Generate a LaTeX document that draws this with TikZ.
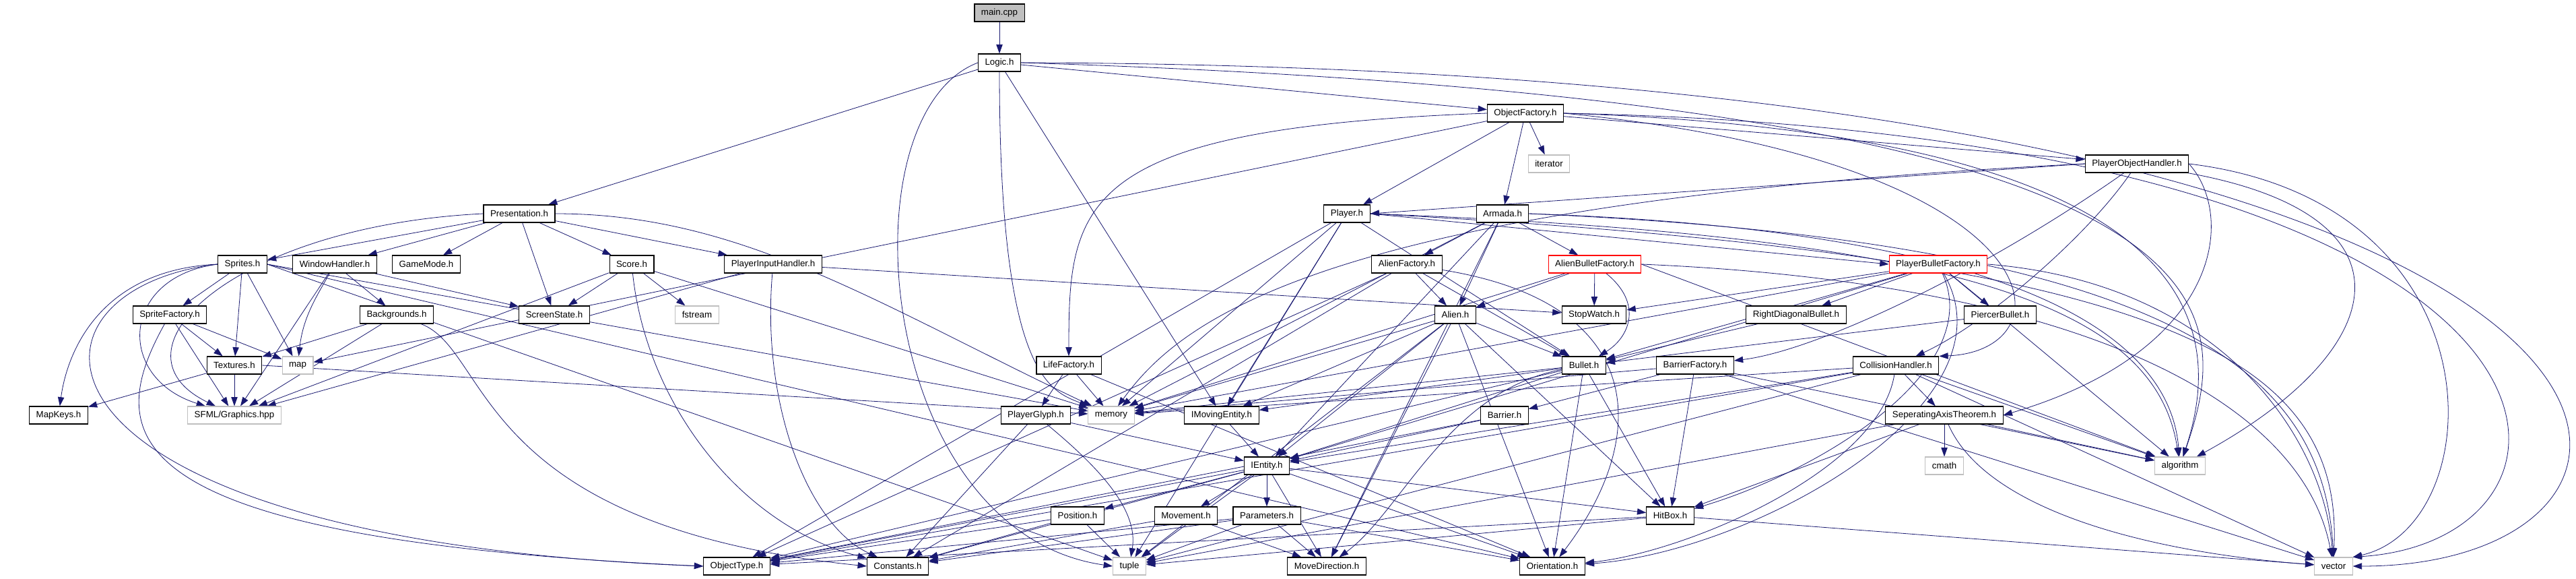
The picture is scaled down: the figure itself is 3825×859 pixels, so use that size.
\documentclass[tikz,border=0pt]{standalone}
\usepackage{fontspec}
\setmainfont{Liberation Sans}
\usetikzlibrary{arrows.meta, backgrounds}
\definecolor{depblue}{RGB}{25,25,112}
\definecolor{sysgray}{RGB}{191,191,191}

\begin{document}
\begin{tikzpicture}[
    x=0.75pt, y=-0.75pt,
    incl/.style={
        rectangle,
        draw=black,
        fill=white,
        line width=0.8pt,
        minimum height=19.5pt,
        inner xsep=7.5pt,
        inner ysep=0pt,
        font=\fontsize{10}{12}\selectfont
    },
    sysincl/.style={incl, draw=sysgray},
    mainincl/.style={incl, fill=sysgray},
    redincl/.style={incl, draw=red},
    dep/.style={-{Triangle[length=10pt, width=7pt]}, depblue, line width=0.6pt}
]
    \useasboundingbox (0,0) rectangle (3825,859);

    % Top of the graph
    \node[mainincl] (main) at (1484,19) {main.cpp};
    \node[incl] (logic) at (1484,93) {Logic.h};
    \node[incl] (objfac) at (2265,168) {ObjectFactory.h};
    \node[sysincl] (iterator) at (2300,243) {iterator};
    \node[incl] (poh) at (3173,243) {PlayerObjectHandler.h};
    \node[incl] (pres) at (771,317) {Presentation.h};
    \node[incl] (player) at (2000,317) {Player.h};
    \node[incl] (armada) at (2231,317) {Armada.h};

    % Presentation side (left)
    \node[incl] (sprites) at (360,392) {Sprites.h};
    \node[incl] (winh) at (497,392) {WindowHandler.h};
    \node[incl] (gamemode) at (633,392) {GameMode.h};
    \node[incl] (score) at (938,392) {Score.h};
    \node[incl] (pih) at (1148,392) {PlayerInputHandler.h};
    \node[incl] (spritefac) at (252,467) {SpriteFactory.h};
    \node[incl] (backgrounds) at (589,467) {Backgrounds.h};
    \node[incl] (screenstate) at (823,467) {ScreenState.h};
    \node[sysincl] (fstream) at (1035,467) {fstream};
    \node[incl] (textures) at (348,542) {Textures.h};
    \node[sysincl] (map) at (442,542) {map};
    \node[incl] (mapkeys) at (87,616) {MapKeys.h};
    \node[sysincl] (sfml) at (348,616) {SFML/Graphics.hpp};

    % Logic side (right)
    \node[incl] (alienfac) at (2089,392) {AlienFactory.h};
    \node[redincl] (abf) at (2368,392) {AlienBulletFactory.h};
    \node[redincl] (pbf) at (2878,392) {PlayerBulletFactory.h};
    \node[incl] (alien) at (2161,467) {Alien.h};
    \node[incl] (stopwatch) at (2367,467) {StopWatch.h};
    \node[incl] (rdb) at (2667,467) {RightDiagonalBullet.h};
    \node[incl] (piercer) at (2970,467) {PiercerBullet.h};
    \node[incl] (lifefac) at (1587,542) {LifeFactory.h};
    \node[incl] (bullet) at (2352,542) {Bullet.h};
    \node[incl] (barrierfac) at (2517,542) {BarrierFactory.h};
    \node[incl] (collision) at (2815,542) {CollisionHandler.h};
    \node[incl] (playerglyph) at (1538,616) {PlayerGlyph.h};
    \node[sysincl] (memory) at (1650,616) {memory};
    \node[incl] (imoving) at (1814,616) {IMovingEntity.h};
    \node[incl] (barrier) at (2234,616) {Barrier.h};
    \node[incl] (sat) at (2887,616) {SeperatingAxisTheorem.h};
    \node[incl] (ientity) at (1881,691) {IEntity.h};
    \node[sysincl] (cmath) at (2887,691) {cmath};
    \node[sysincl] (algorithm) at (3237,691) {algorithm};
    \node[incl] (position) at (1600,765) {Position.h};
    \node[incl] (movement) at (1761,765) {Movement.h};
    \node[incl] (parameters) at (1881,765) {Parameters.h};
    \node[incl] (hitbox) at (2480,765) {HitBox.h};

    % Bottom row
    \node[incl] (objtype) at (1094,840) {ObjectType.h};
    \node[incl] (constants) at (1333,840) {Constants.h};
    \node[sysincl] (tuple) at (1677,840) {tuple};
    \node[incl] (movedir) at (1970,840) {MoveDirection.h};
    \node[incl] (orientation) at (2305,840) {Orientation.h};
    \node[sysincl] (vector) at (3465,840) {vector};

    \begin{scope}[on background layer]
    % main.cpp and Logic.h
    \draw[dep] (main) -- (logic);
    \draw[dep] (logic) -- (pres);
    \draw[dep] (logic) -- (objfac);
    \draw[dep] (logic) -- (imoving);
    \draw[dep] (logic.south) .. controls (1484,560) and (1560,580) .. (memory);
    \draw[dep] (logic.west) .. controls (1250,170) and (1300,790) .. (tuple.west);
    \draw[dep] (logic.east) .. controls (4080,100) and (4080,840) .. (vector.east);
    \draw[dep] (logic.east) .. controls (3350,150) and (3320,450) .. (algorithm);

    % Presentation.h
    \draw[dep] (pres) -- (sprites);
    \draw[dep] (pres) -- (winh);
    \draw[dep] (pres) -- (gamemode);
    \draw[dep] (pres) -- (score);
    \draw[dep] (pres) -- (pih);
    \draw[dep] (pres) -- (screenstate);
    \draw[dep] (pres.west) .. controls (350,335) and (150,520) .. (sfml);
    \draw[dep] (pres.east) .. controls (1100,317) and (1300,450) .. (memory);

    % Sprites.h
    \draw[dep] (sprites) -- (spritefac);
    \draw[dep] (sprites) -- (textures);
    \draw[dep] (sprites) -- (map);
    \draw[dep] (sprites.west) .. controls (150,400) and (100,520) .. (mapkeys);
    \draw[dep] (sprites.west) .. controls (180,410) and (170,560) .. (sfml);
    \draw[dep] (sprites.west) .. controls (0,430) and (0,800) .. (objtype.west);
    \draw[dep] (sprites.east) -- (memory);
    \draw[dep] (sprites.east) -- (tuple);
    \draw[dep] (sprites.east) -- (orientation);

    % SpriteFactory.h, Textures.h, Backgrounds.h
    \draw[dep] (spritefac) -- (textures);
    \draw[dep] (spritefac) -- (map);
    \draw[dep] (spritefac) -- (sfml);
    \draw[dep] (spritefac) .. controls (150,650) and (170,800) .. (objtype.west);
    \draw[dep] (textures) -- (mapkeys);
    \draw[dep] (textures) -- (sfml);
    \draw[dep] (textures.east) -- (memory);
    \draw[dep] (backgrounds) -- (textures);
    \draw[dep] (backgrounds) -- (sfml);
    \draw[dep] (backgrounds) .. controls (730,520) and (700,780) .. (constants.west);

    % WindowHandler.h, Score.h, PlayerInputHandler.h
    \draw[dep] (winh) -- (backgrounds);
    \draw[dep] (winh) -- (screenstate);
    \draw[dep] (winh) .. controls (470,440) and (450,470) .. (map);
    \draw[dep] (winh) -- (sfml);
    \draw[dep] (score) -- (screenstate);
    \draw[dep] (score) -- (fstream);
    \draw[dep] (score) -- (sfml);
    \draw[dep] (score) .. controls (960,600) and (1100,780) .. (constants);
    \draw[dep] (score) -- (memory);
    \draw[dep] (pih) -- (stopwatch);
    \draw[dep] (pih) -- (sfml);
    \draw[dep] (pih) .. controls (1130,600) and (1200,780) .. (constants);

    % ObjectFactory.h
    \draw[dep] (objfac) -- (player);
    \draw[dep] (objfac) -- (armada);
    \draw[dep] (objfac) -- (iterator);
    \draw[dep] (objfac) -- (poh);
    \draw[dep] (objfac) -- (map);
    \draw[dep] (objfac.west) .. controls (1600,190) and (1587,300) .. (lifefac);
    \draw[dep] (objfac.east) .. controls (3060,240) and (3080,520) .. (collision.north east);
    \draw[dep] (objfac.east) .. controls (3900,200) and (3900,800) .. (vector.north east);
    \draw[dep] (objfac.east) .. controls (3300,200) and (3300,500) .. (algorithm);

    % PlayerObjectHandler.h
    \draw[dep] (poh.west) -- (player.east);
    \draw[dep] (poh.west) .. controls (1950,300) and (1750,480) .. (memory);
    \draw[dep] (poh) .. controls (3100,350) and (2950,480) .. (collision);
    \draw[dep] (poh.east) .. controls (3320,320) and (3300,520) .. (sat.east);
    \draw[dep] (poh) .. controls (3600,320) and (3550,520) .. (algorithm);
    \draw[dep] (poh.east) .. controls (3720,300) and (3700,780) .. (vector.north east);
    \draw[dep] (poh) .. controls (2950,400) and (2700,520) .. (barrierfac);

    % Player.h
    \draw[dep] (player.east) -- (pbf.west);
    \draw[dep] (player) -- (memory);
    \draw[dep] (player) -- (imoving);
    \draw[dep] (player) -- (bullet);
    \draw[dep] (player) -- (tuple);
    \draw[dep] (player) -- (objtype);
    \draw[dep] (player.east) .. controls (3200,380) and (3480,520) .. (vector.north);
    \draw[dep] (player.east) .. controls (2900,350) and (3200,450) .. (algorithm);

    % Armada.h
    \draw[dep] (armada) -- (alienfac);
    \draw[dep] (armada) -- (abf);
    \draw[dep] (armada) -- (alien);
    \draw[dep] (armada) -- (memory);
    \draw[dep] (armada) -- (ientity);
    \draw[dep] (armada) -- (movedir);
    \draw[dep] (armada.east) .. controls (3250,360) and (3450,560) .. (vector.north);
    \draw[dep] (armada.east) .. controls (2950,340) and (3220,480) .. (algorithm);

    % AlienFactory.h, AlienBulletFactory.h
    \draw[dep] (alienfac) -- (alien);
    \draw[dep] (alienfac) -- (objtype);
    \draw[dep] (alienfac) -- (constants);
    \draw[dep] (alienfac) -- (bullet);
    \draw[dep] (alienfac) .. controls (2450,450) and (2450,650) .. (orientation);
    \draw[dep] (abf) -- (alien);
    \draw[dep] (abf) -- (stopwatch);
    \draw[dep] (abf) .. controls (2440,450) and (2420,500) .. (bullet);
    \draw[dep] (abf) -- (memory);
    \draw[dep] (abf.east) -- (algorithm);
    \draw[dep] (abf.east) .. controls (3100,420) and (3420,600) .. (vector);

    % PlayerBulletFactory.h
    \draw[dep] (pbf) -- (stopwatch);
    \draw[dep] (pbf) -- (rdb);
    \draw[dep] (pbf) -- (piercer);
    \draw[dep] (pbf) -- (bullet);
    \draw[dep] (pbf) -- (memory);
    \draw[dep] (pbf) -- (ientity);
    \draw[dep] (pbf) .. controls (2950,550) and (2700,700) .. (hitbox);
    \draw[dep] (pbf) -- (algorithm);
    \draw[dep] (pbf.east) .. controls (3300,420) and (3450,650) .. (vector);
    \draw[dep] (pbf) .. controls (3000,600) and (2600,820) .. (orientation);

    % Alien.h, Bullet.h
    \draw[dep] (alien) -- (bullet);
    \draw[dep] (alien) -- (ientity);
    \draw[dep] (alien) -- (imoving);
    \draw[dep] (alien) -- (memory);
    \draw[dep] (alien) -- (movedir);
    \draw[dep] (alien) -- (orientation);
    \draw[dep] (alien) -- (tuple);
    \draw[dep] (alien) -- (hitbox);
    \draw[dep] (bullet) -- (ientity);
    \draw[dep] (bullet) -- (imoving);
    \draw[dep] (bullet) .. controls (2150,580) and (2080,760) .. (movedir);
    \draw[dep] (bullet) -- (orientation);
    \draw[dep] (bullet) -- (hitbox);
    \draw[dep] (bullet) -- (memory);
    \draw[dep] (bullet) -- (objtype);
    \draw[dep] (rdb) -- (bullet);
    \draw[dep] (piercer) -- (bullet);

    % LifeFactory.h, PlayerGlyph.h, IMovingEntity.h
    \draw[dep] (lifefac) -- (playerglyph);
    \draw[dep] (lifefac) -- (memory);
    \draw[dep] (lifefac) -- (orientation);
    \draw[dep] (playerglyph) -- (ientity);
    \draw[dep] (playerglyph) -- (constants);
    \draw[dep] (playerglyph) .. controls (1640,700) and (1690,760) .. (tuple);
    \draw[dep] (imoving) -- (ientity);

    % IEntity.h
    \draw[dep] (ientity) -- (position);
    \draw[dep] (ientity) -- (movement);
    \draw[dep] (ientity) -- (parameters);
    \draw[dep] (ientity) -- (constants);
    \draw[dep] (ientity) -- (objtype);
    \draw[dep] (ientity) -- (tuple);
    \draw[dep] (ientity) -- (movedir);
    \draw[dep] (ientity) -- (orientation);
    \draw[dep] (ientity) -- (hitbox);

    % BarrierFactory.h, Barrier.h
    \draw[dep] (barrierfac) -- (barrier);
    \draw[dep] (barrierfac) -- (memory);
    \draw[dep] (barrierfac) -- (algorithm);
    \draw[dep] (barrierfac) -- (vector);
    \draw[dep] (barrierfac) -- (hitbox);
    \draw[dep] (barrier) -- (ientity);
    \draw[dep] (barrier) -- (objtype);

    % CollisionHandler.h, SeperatingAxisTheorem.h
    \draw[dep] (collision) -- (sat);
    \draw[dep] (collision) -- (memory);
    \draw[dep] (collision) -- (ientity);
    \draw[dep] (collision) .. controls (2790,700) and (2500,820) .. (orientation);
    \draw[dep] (collision) -- (algorithm);
    \draw[dep] (collision) -- (vector);
    \draw[dep] (collision) -- (objtype);
    \draw[dep] (collision) -- (tuple);
    \draw[dep] (sat) -- (cmath);
    \draw[dep] (sat) -- (algorithm);
    \draw[dep] (sat) .. controls (2950,760) and (3200,820) .. (vector);
    \draw[dep] (sat) -- (hitbox);
    \draw[dep] (sat) -- (tuple);

    % Position.h, Movement.h, Parameters.h, HitBox.h
    \draw[dep] (position) -- (tuple);
    \draw[dep] (position) -- (constants);
    \draw[dep] (position) -- (objtype);
    \draw[dep] (movement) -- (movedir);
    \draw[dep] (movement) -- (constants);
    \draw[dep] (parameters) -- (tuple);
    \draw[dep] (parameters) -- (constants);
    \draw[dep] (parameters) -- (movedir);
    \draw[dep] (parameters) -- (orientation);
    \draw[dep] (parameters) -- (objtype);
    \draw[dep] (hitbox) -- (tuple);
    \draw[dep] (hitbox) -- (vector);
    \draw[dep] (hitbox) -- (objtype);
    \end{scope}
\end{tikzpicture}
\end{document}
